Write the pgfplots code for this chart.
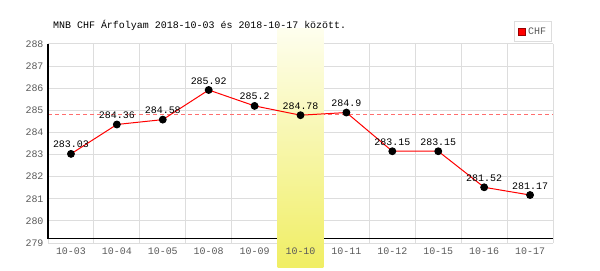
\documentclass[border=0pt]{standalone}
\usepackage{pgfplots}
\pgfplotsset{compat=1.18}
\usepackage{fontspec}
\setmainfont{Liberation Sans}
\newfontfamily\monof{Liberation Mono}
\definecolor{gridc}{RGB}{221,221,221}
\definecolor{tickc}{RGB}{90,90,90}
\definecolor{hltop}{RGB}{254,254,238}
\definecolor{hlbot}{RGB}{240,238,100}
\definecolor{avgc}{RGB}{255,110,110}
\pgfplotsset{base/.style={at={(48bp,27bp)}, anchor=south west, scale only axis,
  width=505bp, height=199bp,
  xmin=-0.5, xmax=10.5, ymin=279, ymax=288,
  xtick={0,...,10},
  minor xtick={-0.5,0.5,...,10.5},
  ytick={279,...,288},
  major tick length=0pt, minor tick length=0pt,
  axis line style={draw=none},
  ticklabel style={font=\monof\fontsize{10}{12}\selectfont, text=tickc},
  /pgf/number format/assume math mode=true,
  yticklabel style={xshift=-1bp},
  xticklabel style={yshift=-1bp},
  clip=false}}
\begin{document}
\begin{tikzpicture}[x=1bp,y=1bp]
\path[use as bounding box] (0,0) rectangle (600,270);
\node[anchor=west, inner sep=0pt, font=\monof\fontsize{10}{12}\selectfont] at (53,245) {MNB CHF Árfolyam 2018-10-03 és 2018-10-17 között.};
\begin{axis}[base,
  xticklabels={,,}, yticklabels={,,},
  ymajorgrids, xminorgrids,
  grid style={gridc, line width=1bp},
  minor grid style={gridc, line width=1bp},
  legend style={at={(0.998,1.1156)}, anchor=north east, draw=gridc, line width=1bp,
    font=\monof\fontsize{10}{12}\selectfont, text=tickc, inner xsep=3.5bp, inner ysep=4bp,
    legend cell align=left},
  legend image code/.code={\fill[red, draw=red!60!black, line width=0.6bp] (0bp,-3.5bp) rectangle (7bp,3.5bp);},
]
\addplot[draw={rgb,255:red,255;green,110;blue,110}, line width=1.1bp, dash pattern=on 4bp off 3bp, mark=none, forget plot] coordinates {(-0.5,284.8) (10.5,284.8)};
\draw[black, line width=1.2bp] (axis cs:-0.5,288) -- (axis cs:-0.5,279.22) -- (axis cs:10.5,279.22);
\fill[top color=hltop, bottom color=hlbot] (axis cs:4.5,277.91) rectangle (axis cs:5.5,288.68);
\addplot[red, line width=1bp, mark=*, mark size=3.4bp, mark options={fill=black, draw=black},
  nodes near coords,
  nodes near coords style={font=\monof\fontsize{10}{12}\selectfont, text=black, anchor=south, yshift=2bp,
    /pgf/number format/fixed, /pgf/number format/precision=2, /pgf/number format/assume math mode=true}]
  coordinates {(0,283.03) (1,284.36) (2,284.58) (3,285.92) (4,285.2) (5,284.78) (6,284.9) (7,283.15) (8,283.15) (9,281.52) (10,281.17)};
\addlegendentry{CHF}
\end{axis}
\begin{axis}[base,
  xticklabels={10-03,10-04,10-05,10-08,10-09,10-10,10-11,10-12,10-15,10-16,10-17}]
\end{axis}
\end{tikzpicture}
\end{document}
